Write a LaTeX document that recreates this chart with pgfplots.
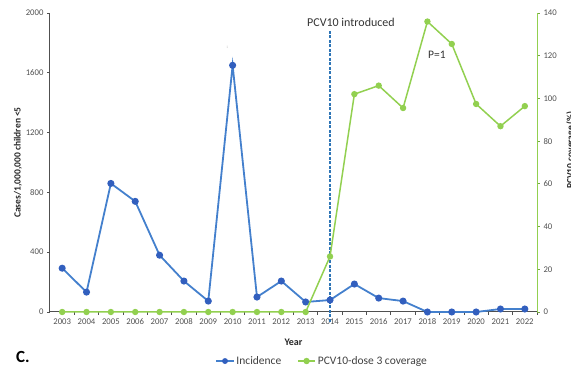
\documentclass[border=0pt]{standalone}
\usepackage{pgfplots}
\pgfplotsset{compat=1.18}
\usepackage{fontspec}
\setmainfont{Carlito}
\definecolor{incl}{RGB}{68,128,205}
\definecolor{incm}{RGB}{50,95,190}
\definecolor{covg}{RGB}{146,208,80}
\definecolor{tickgray}{RGB}{80,80,80}
\definecolor{axgray}{RGB}{80,80,80}
\definecolor{dashblue}{RGB}{46,117,182}
\begin{document}
\begin{tikzpicture}
\useasboundingbox (0pt,0pt) rectangle (571pt,369pt);
\begin{axis}[
  at={(50pt,57pt)}, anchor=south west,
  scale only axis, width=487pt, height=299pt,
  xmin=2002.5, xmax=2022.5, ymin=0, ymax=2000,
  clip=false,
  axis x line*=bottom, axis y line*=left,
  axis line style={-, axgray, line width=1pt},
  xtick={2003,...,2022},
  xticklabels={2003,2004,2005,2006,2007,2008,2009,2010,2011,2012,2013,2014,2015,2016,2017,2018,2019,2020,2021,2022},
  major x tick style={draw=none},
  minor xtick={2003.5,2004.5,...,2022.5},
  minor x tick style={axgray, line width=0.8pt},
  minor tick length=3pt,
  ytick={0,400,...,2000},
  y tick style={axgray, line width=0.8pt},
  major tick length=3pt,
  tick align=outside,
  /pgf/number format/assume math mode=true,
  /pgf/number format/1000 sep={},
  tick label style={font=\fontsize{8.7}{10}\selectfont, text=tickgray},
  xlabel={Year},
  xlabel style={font=\fontsize{10}{12}\selectfont\bfseries, text=black!85, at={(axis description cs:0.5,-0.100)}, anchor=center},
  ylabel={Cases/1,000,000 children <5},
  ylabel style={font=\fontsize{9.5}{11}\selectfont\bfseries, text=black!85, at={(axis description cs:-0.066,0.5)}, anchor=center},
]
\addplot[color=incl, line width=1.8pt, mark=*, mark size=2.6pt, mark options={fill=incm, draw=incm}]
coordinates {
(2003,293) (2004,133) (2005,860) (2006,740) (2007,380) (2008,207) (2009,73) (2010,1650)
(2011,100) (2012,207) (2013,67) (2014,80) (2015,187) (2016,93) (2017,73) (2018,0)
(2019,0) (2020,0) (2021,20) (2022,20)
};
\draw[dashblue, line width=1.2pt, dash pattern=on 3pt off 1.5pt] (axis cs:2014,1880) -- (axis cs:2014,-75);
\node[font=\fontsize{12}{14}\selectfont, text=black!80] at (axis cs:2014.86,1940) {PCV10 introduced};
\node[font=\fontsize{11.5}{13}\selectfont, text=black!80] at (axis cs:2018.39,1719) {P=1};
\node[font=\fontsize{5}{5}\selectfont, text=gray] at (axis cs:2009.78,1772) {:};
\end{axis}
\begin{axis}[
  at={(50pt,57pt)}, anchor=south west,
  scale only axis, width=487pt, height=299pt,
  xmin=2002.5, xmax=2022.5, ymin=0, ymax=140,
  clip=false,
  axis x line=none, axis y line*=right,
  axis line style={-, covg, line width=1pt},
  ytick={0,20,...,140},
  y tick style={covg!80!black, line width=0.8pt},
  major tick length=3pt,
  tick align=outside,
  /pgf/number format/assume math mode=true,
  tick label style={font=\fontsize{8.7}{10}\selectfont, text=tickgray},
  legend style={at={(axis description cs:0.559,-0.164)}, anchor=center, draw=none, fill=none,
    legend columns=2, font=\fontsize{11.5}{13}\selectfont, text=black!75,
    /tikz/every even column/.append style={column sep=14pt}},
]
\addlegendimage{color=incl, line width=1.8pt, mark=*, mark size=2pt, mark options={fill=incm, draw=incm}}
\addlegendentry{Incidence}
\addplot[color=covg, line width=1.5pt, mark=*, mark size=2.4pt, mark options={fill=covg, draw=covg}]
coordinates {
(2003,0) (2004,0) (2005,0) (2006,0) (2007,0) (2008,0) (2009,0) (2010,0) (2011,0) (2012,0) (2013,0)
(2014,26) (2015,102) (2016,106) (2017,95.5) (2018,136) (2019,125.5) (2020,97.4) (2021,87) (2022,96.4)
};
\addlegendentry{PCV10-dose 3 coverage}
\end{axis}
\node[rotate=90, anchor=north, inner sep=0pt, font=\fontsize{9.5}{11}\selectfont\bfseries, text=black!85] at (566pt,219pt) {PCV10 coverage (\%)};
\node[font=\fontsize{17}{20}\selectfont\bfseries, anchor=base west, inner sep=0pt] at (16pt,6pt) {C.};
\end{tikzpicture}
\end{document}
